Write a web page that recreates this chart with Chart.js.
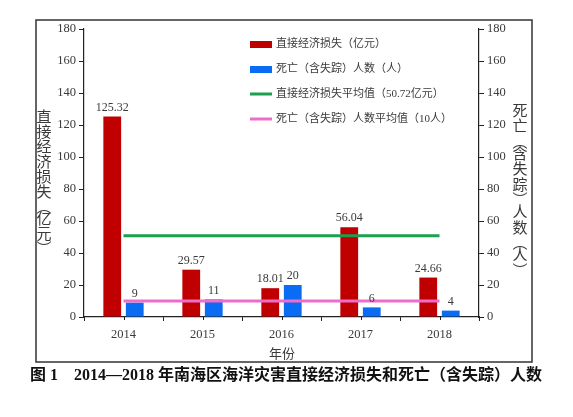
<!DOCTYPE html>
<html>
<head>
<meta charset="utf-8">
<script src="https://cdn.jsdelivr.net/npm/chart.js@4.4.0/dist/chart.umd.min.js"></script>
<style>
    html, body { margin: 0; padding: 0; background: #fff; }
    #wrap { position: relative; width: 573px; height: 417px; }
</style>
</head>
<body>
<div id="wrap"><canvas id="chart" width="573" height="417"></canvas></div>
<script>
// data
const years = ['2014', '2015', '2016', '2017', '2018'];
const lossValues = [125.32, 29.57, 18.01, 56.04, 24.66];
const deathValues = [9, 11, 20, 6, 4];
const lossAverage = [50.72, 50.72, 50.72, 50.72, 50.72];
const deathAverage = [10, 10, 10, 10, 10];
const yTicks = [0, 20, 40, 60, 80, 100, 120, 140, 160, 180];

const leftTitle = ['直', '接', '经', '济', '损', '失', '︵', '亿', '元', '︶'];
const rightTitle = ['死', '亡', '︵', '含', '失', '踪', '︶', '人', '数', '︵', '人', '︶'];
const caption = '图 1\u30002014—2018 年南海区海洋灾害直接经济损失和死亡（含失踪）人数';

const SERIF = '"Liberation Serif", "Noto Sans CJK SC", serif';
const TEXT = '#3a3a3a';

const labels = [
    '直接经济损失（亿元）',
    '死亡（含失踪）人数（人）',
    '直接经济损失平均值（50.72亿元）',
    '死亡（含失踪）人数平均值（10人）'
];

// value labels on top of the bars
const barValues = {
    id: 'barValues',
    afterDatasetsDraw(chart) {
        const ctx = chart.ctx;
        ctx.save();
        ctx.font = '12px ' + SERIF;
        ctx.fillStyle = TEXT;
        ctx.textAlign = 'center';
        ctx.textBaseline = 'bottom';
        [0, 1].forEach(i => {
            chart.getDatasetMeta(i).data.forEach((bar, j) => {
                ctx.fillText(String(chart.data.datasets[i].data[j]), bar.x, bar.y - 3);
            });
        });
        ctx.restore();
    }
};

// frame, vertical titles, legend, caption, centre ticks
const decorations = {
    id: 'decorations',
    afterDraw(chart) {
        const ctx = chart.ctx;
        const xs = chart.scales.x;
        ctx.save();

        ctx.strokeStyle = '#333';
        ctx.lineWidth = 1.5;
        ctx.strokeRect(36, 20, 496, 342);

        // small ticks under each category centre
        ctx.lineWidth = 1;
        ctx.strokeStyle = '#222';
        years.forEach((y, i) => {
            const px = Math.round(xs.getPixelForValue(i)) + 0.5;
            ctx.beginPath();
            ctx.moveTo(px, xs.top);
            ctx.lineTo(px, xs.top + 3);
            ctx.stroke();
        });

        ctx.fillStyle = TEXT;
        ctx.textAlign = 'center';
        ctx.textBaseline = 'middle';
        ctx.font = '15px "Noto Sans CJK SC", serif';
        let y = 116;
        leftTitle.forEach(ch => {
            const paren = ch === '︵' || ch === '︶';
            ctx.fillText(ch, 44, y);
            y += paren ? 12 : 15;
        });
        y = 110;
        rightTitle.forEach(ch => {
            const paren = ch === '︵' || ch === '︶';
            ctx.fillText(ch, 520, y);
            y += paren ? 12 : 15.5;
        });

        ctx.font = '13px "Noto Sans CJK SC", serif';
        ctx.fillText('年份', 282, 353);

        // legend
        const ds = chart.data.datasets;
        ctx.textAlign = 'left';
        ctx.font = '11px ' + SERIF;
        [0, 1, 2, 3].forEach(i => {
            const cy = 44 + i * 25;
            if (i < 2) {
                ctx.fillStyle = ds[i].backgroundColor;
                ctx.fillRect(250, cy - 3, 22, 7);
            } else {
                ctx.strokeStyle = ds[i].borderColor;
                ctx.lineWidth = 3;
                ctx.beginPath();
                ctx.moveTo(250, cy);
                ctx.lineTo(272, cy);
                ctx.stroke();
            }
            ctx.fillStyle = TEXT;
            ctx.fillText(ds[i].label, 276, cy);
        });

        ctx.fillStyle = '#111';
        ctx.font = 'bold 16px "Liberation Serif", "Noto Sans CJK SC", serif';
        ctx.fillText(caption, 30, 376);
        ctx.restore();
    }
};

const axisTicks = {
    font: { family: SERIF, size: 12.5 },
    color: TEXT
};

new Chart(document.getElementById('chart'), {
    data: {
        labels: years,
        datasets: [
            {
                type: 'bar',
                label: labels[0],
                data: lossValues,
                yAxisID: 'y',
                backgroundColor: '#C00000',
                categoryPercentage: 0.57,
                barPercentage: 0.79,
                order: 2
            },
            {
                type: 'bar',
                label: labels[1],
                data: deathValues,
                yAxisID: 'y1',
                backgroundColor: '#0A6CF2',
                categoryPercentage: 0.57,
                barPercentage: 0.79,
                order: 2
            },
            {
                type: 'line',
                label: labels[2],
                data: lossAverage,
                yAxisID: 'y',
                borderColor: '#1AA04E',
                borderWidth: 3,
                pointRadius: 0,
                order: 1
            },
            {
                type: 'line',
                label: labels[3],
                data: deathAverage,
                yAxisID: 'y1',
                borderColor: '#F06CCB',
                borderWidth: 3,
                pointRadius: 0,
                order: 1
            }
        ]
    },
    options: {
        responsive: false,
        animation: false,
        layout: { padding: { top: 29, left: 0, right: 0, bottom: 0 } },
        plugins: {
            legend: { display: false },
            tooltip: { enabled: false }
        },
        scales: {
            x: {
                offset: true,
                grid: { offset: true, drawOnChartArea: false, tickLength: 4, color: '#222' },
                border: { color: '#222', width: 1.2 },
                ticks: { ...axisTicks, padding: 6 },
                afterFit(scale) { scale.height = 100; }
            },
            y: {
                position: 'left',
                min: 0,
                max: 180,
                afterBuildTicks(scale) { scale.ticks = yTicks.map(v => ({ value: v })); },
                grid: { drawOnChartArea: false, tickLength: 5, color: '#222' },
                border: { color: '#222', width: 1.2 },
                ticks: { ...axisTicks, padding: 3 },
                afterFit(scale) { scale.width = 84; }
            },
            y1: {
                position: 'right',
                min: 0,
                max: 180,
                afterBuildTicks(scale) { scale.ticks = yTicks.map(v => ({ value: v })); },
                grid: { drawOnChartArea: false, tickLength: 5, color: '#222' },
                border: { color: '#222', width: 1.2 },
                ticks: { ...axisTicks, padding: 3 },
                afterFit(scale) { scale.width = 94; }
            }
        }
    },
    plugins: [barValues, decorations]
});
</script>
</body>
</html>
